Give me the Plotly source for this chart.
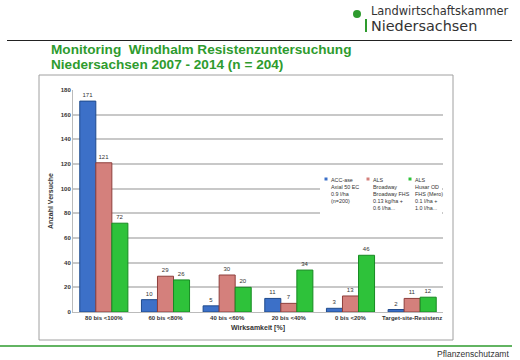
import plotly.graph_objects as go

categories = ["80 bis <100%", "60 bis <80%", "40 bis <60%", "20 bis <40%", "0 bis <20%", "Target-site-Resistenz"]
acc_ase = [171, 10, 5, 11, 3, 2]
als_broadway = [121, 29, 30, 7, 13, 11]
als_husar = [72, 26, 20, 34, 46, 12]
series_names = [
    "ACC-ase<br>Axial 50 EC<br>0.9 l/ha<br>(n=200)",
    "ALS<br>Broadway<br>Broadway FHS<br>0.13 kg/ha +<br>0.6 l/ha...",
    "ALS<br>Husar OD<br>FHS (Mero)<br>0.1 l/ha +<br>1.0 l/ha...",
]
colors = ["#3C70C8", "#D4807C", "#2EC23A"]
edges = ["#1F4A8C", "#8E3F3C", "#178A22"]

W, H = 520, 360
L, R, T, B = 73, 443, 90, 312


def px(x):
    return (x - L) / (R - L)


def py(y):
    return (B - y) / (B - T)


fig = go.Figure()
for name, vals, c, e in zip(series_names, [acc_ase, als_broadway, als_husar], colors, edges):
    fig.add_trace(go.Bar(
        x=categories, y=vals, name=name,
        marker=dict(color=c, line=dict(color=e, width=1)),
        text=vals, textposition="outside",
        textfont=dict(size=6, color="#333333", family="Liberation Sans"),
        cliponaxis=False, showlegend=False,
    ))

shapes = [
    dict(type="rect", xref="paper", yref="paper", x0=px(39), x1=px(453), y0=py(340), y1=py(75),
         line=dict(color="#A0A0A0", width=1), fillcolor="rgba(0,0,0,0)", layer="below"),
    dict(type="line", xref="paper", yref="paper", x0=px(7), x1=px(512), y0=py(40.5), y1=py(40.5),
         line=dict(color="#222222", width=1)),
    dict(type="line", xref="paper", yref="paper", x0=px(0), x1=px(512), y0=py(346), y1=py(346),
         line=dict(color="#2E9B2E", width=1.5)),
    dict(type="circle", xref="paper", yref="paper", x0=px(353), x1=px(361), y0=py(18), y1=py(10),
         line=dict(width=0), fillcolor="#2E9B2E"),
    dict(type="line", xref="paper", yref="paper", x0=px(366), x1=px(366), y0=py(19), y1=py(32),
         line=dict(color="#2E9B2E", width=2)),
    # legend background
    dict(type="rect", xref="paper", yref="paper", x0=px(320), x1=px(442), y0=py(214), y1=py(172),
         line=dict(width=0), fillcolor="white", layer="above"),
]

annotations = [
    dict(text="Landwirtschaftskammer", x=px(369), y=py(11), xref="paper", yref="paper",
         xanchor="left", yanchor="middle", showarrow=False,
         font=dict(size=11.4, color="#333333", family="DejaVu Sans")),
    dict(text="Niedersachsen", x=px(369), y=py(26), xref="paper", yref="paper",
         xanchor="left", yanchor="middle", showarrow=False,
         font=dict(size=14.4, color="#333333", family="DejaVu Sans")),
    dict(text="<b>Monitoring  Windhalm Resistenzuntersuchung</b>", x=px(49), y=py(49.5), xref="paper", yref="paper",
         xanchor="left", yanchor="middle", showarrow=False,
         font=dict(size=13.6, color="#2E9B2E", family="Liberation Sans")),
    dict(text="<b>Niedersachsen 2007 - 2014 (n = 204)</b>", x=px(49), y=py(64.5), xref="paper", yref="paper",
         xanchor="left", yanchor="middle", showarrow=False,
         font=dict(size=13.6, color="#2E9B2E", family="Liberation Sans")),
    dict(text="Pflanzenschutzamt", x=px(511), y=py(354), xref="paper", yref="paper",
         xanchor="right", yanchor="middle", showarrow=False,
         font=dict(size=8.5, color="#333333", family="Liberation Sans Narrow, Liberation Sans")),
]

# custom legend (three columns)
leg_x = [329, 371, 413]
for name, c, lx in zip(series_names, colors, leg_x):
    annotations.append(dict(
        text=name, x=px(lx), y=py(175), xref="paper", yref="paper",
        xanchor="left", yanchor="top", align="left", showarrow=False,
        font=dict(size=5.4, color="#333333", family="Liberation Sans"),
    ))
    shapes.append(dict(type="rect", xref="paper", yref="paper",
                       x0=px(lx - 4.5), x1=px(lx - 1.5), y0=py(180.5), y1=py(177.5),
                       line=dict(width=0), fillcolor=c, layer="above"))

fig.update_layout(
    width=W, height=H,
    margin=dict(l=L, r=W - R, t=T, b=H - B),
    paper_bgcolor="white", plot_bgcolor="white",
    barmode="group", bargap=0.22, bargroupgap=0,
    font=dict(family="Liberation Sans", size=6, color="#333333"),
    showlegend=False,
    xaxis=dict(
        title=dict(text="<b>Wirksamkeit [%]</b>", font=dict(size=7), standoff=4),
        tickfont=dict(size=6), showline=True, linecolor="#BBBBBB", linewidth=1,
        tickprefix="<b>", ticksuffix="</b>", automargin=False,
    ),
    yaxis=dict(
        title=dict(text="<b>Anzahl Versuche</b>", font=dict(size=7), standoff=6),
        range=[0, 180], dtick=20, tickfont=dict(size=6),
        tickprefix="<b>", ticksuffix="</b>",
        showgrid=True, gridcolor="#C8C8C8", gridwidth=1.5,
        showline=True, linecolor="#BBBBBB", zeroline=False, automargin=False,
    ),
    shapes=shapes,
    annotations=annotations,
)

fig.write_html("out.html", config={"displayModeBar": False},
               post_script="document.body.style.margin='0';document.body.style.overflow='hidden';")
